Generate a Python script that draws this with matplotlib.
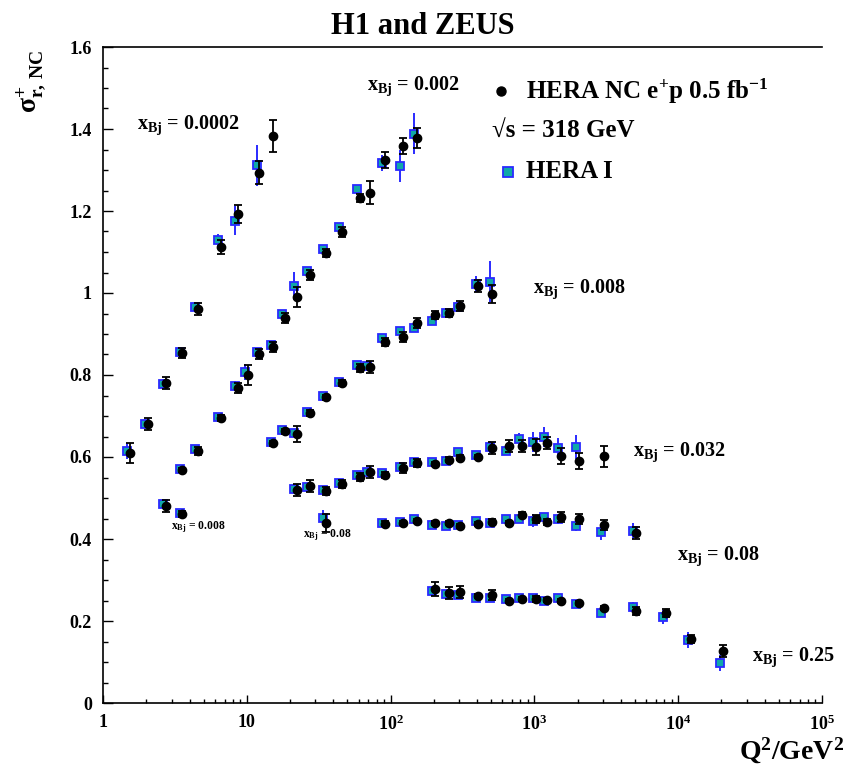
import numpy as np
import matplotlib
matplotlib.use("Agg")
import matplotlib.pyplot as plt
from matplotlib.ticker import FixedLocator, FixedFormatter, NullFormatter

plt.rcParams["font.family"] = ["Liberation Serif", "DejaVu Serif"]
plt.rcParams["font.weight"] = "bold"
plt.rcParams["mathtext.fontset"] = "custom"
plt.rcParams["mathtext.rm"] = "Liberation Serif:bold"
plt.rcParams["mathtext.bf"] = "Liberation Serif:bold"
plt.rcParams["mathtext.it"] = "Liberation Serif:italic:bold"
plt.rcParams["mathtext.default"] = "rm"

# reduced NC e+p cross sections per x_Bj bin: new combination (dots) and HERA I (squares)
q2_0002_new = [1.5, 2, 2.7, 3.5, 4.5, 6.5, 8.5, 12, 15]
sig_0002_new = [0.61, 0.68, 0.78, 0.854, 0.961, 1.112, 1.193, 1.293, 1.383]
err_0002_new = [0.025, 0.015, 0.015, 0.012, 0.015, 0.018, 0.022, 0.028, 0.04]
q2_0002_old = [1.5, 2, 2.7, 3.5, 4.5, 6.5, 8.5, 12]
sig_0002_old = [0.615, 0.68, 0.778, 0.856, 0.966, 1.129, 1.176, 1.312]
err_0002_old = [0.02, 0.01, 0.012, 0.01, 0.012, 0.015, 0.035, 0.05]

q2_002_new = [3.5, 4.5, 6.5, 8.5, 10, 12, 15, 18, 22, 27, 35, 45, 60, 70, 90, 120, 150]
sig_002_new = [0.568, 0.615, 0.695, 0.768, 0.80, 0.851, 0.868, 0.939, 0.99, 1.044,
               1.097, 1.149, 1.232, 1.244, 1.324, 1.358, 1.378]
err_002_new = [0.005, 0.01, 0.008, 0.012, 0.025, 0.012, 0.012, 0.012, 0.025, 0.012,
               0.01, 0.012, 0.01, 0.028, 0.02, 0.02, 0.025]
q2_002_old = [3.5, 4.5, 6.5, 8.5, 10, 12, 15, 18, 22, 27, 35, 45, 60, 90, 120, 150]
sig_002_old = [0.571, 0.62, 0.698, 0.773, 0.807, 0.856, 0.873, 0.949, 1.017, 1.054,
               1.107, 1.161, 1.254, 1.317, 1.31, 1.388]
err_002_old = [0.006, 0.008, 0.008, 0.012, 0.02, 0.01, 0.01, 0.01, 0.035, 0.01,
               0.008, 0.01, 0.01, 0.02, 0.04, 0.05]

q2_008 = [2.7, 3.5, 15, 18, 22, 27, 35, 45, 60, 70, 90, 120, 150, 200, 250, 300,
          400, 500]
sig_008_new = [0.48, 0.461, 0.634, 0.663, 0.656, 0.707, 0.746, 0.78, 0.817, 0.82,
               0.881, 0.893, 0.927, 0.946, 0.951, 0.968, 1.017, 0.998]
err_008_new = [0.014, 0.008, 0.006, 0.006, 0.02, 0.008, 0.006, 0.008, 0.01, 0.015,
               0.01, 0.012, 0.012, 0.01, 0.01, 0.012, 0.015, 0.022]
sig_008_old = [0.485, 0.463, 0.637, 0.666, 0.659, 0.71, 0.749, 0.783, 0.824, 0.822,
               0.89, 0.907, 0.914, 0.932, 0.951, 0.966, 1.022, 1.027]
err_008_old = [0.012, 0.006, 0.005, 0.005, 0.01, 0.006, 0.005, 0.006, 0.008, 0.008,
               0.008, 0.01, 0.01, 0.008, 0.008, 0.01, 0.02, 0.05]

q2_032_new = [22, 27, 35, 45, 60, 70, 90, 120, 150, 200, 250, 300, 400, 500, 650,
              800, 1000, 1200, 1500, 2000, 3000]
sig_032_new = [0.52, 0.529, 0.517, 0.534, 0.551, 0.563, 0.556, 0.573, 0.585, 0.583,
               0.593, 0.598, 0.6, 0.622, 0.627, 0.627, 0.625, 0.634, 0.602, 0.59, 0.602]
err_032_new = [0.015, 0.015, 0.01, 0.01, 0.01, 0.015, 0.008, 0.012, 0.01, 0.006,
               0.006, 0.006, 0.006, 0.015, 0.015, 0.015, 0.02, 0.015, 0.02, 0.02, 0.026]
q2_032_old = [22, 27, 35, 45, 60, 70, 90, 120, 150, 200, 250, 300, 400, 500, 650,
              800, 1000, 1200, 1500, 2000]
sig_032_old = [0.522, 0.527, 0.52, 0.537, 0.556, 0.563, 0.56, 0.576, 0.588, 0.588,
               0.59, 0.612, 0.605, 0.624, 0.615, 0.644, 0.637, 0.649, 0.622, 0.624]
err_032_old = [0.01, 0.01, 0.008, 0.008, 0.008, 0.01, 0.006, 0.008, 0.006, 0.006,
               0.006, 0.006, 0.008, 0.015, 0.01, 0.015, 0.025, 0.025, 0.025, 0.03]

q2_08 = [35, 90, 120, 150, 200, 250, 300, 400, 500, 650, 800, 1000, 1200, 1500,
         2000, 3000, 5000]
sig_08_new = [0.44, 0.437, 0.439, 0.444, 0.439, 0.44, 0.432, 0.436, 0.442, 0.439,
              0.459, 0.449, 0.441, 0.453, 0.449, 0.434, 0.415]
err_08_new = [0.022, 0.006, 0.006, 0.006, 0.005, 0.005, 0.005, 0.005, 0.006, 0.006,
              0.006, 0.01, 0.008, 0.012, 0.012, 0.012, 0.015]
sig_08_old = [0.451, 0.439, 0.442, 0.449, 0.434, 0.432, 0.434, 0.444, 0.439, 0.449,
              0.449, 0.445, 0.454, 0.449, 0.432, 0.417, 0.42]
err_08_old = [0.02, 0.006, 0.006, 0.006, 0.005, 0.005, 0.005, 0.005, 0.008, 0.006,
              0.008, 0.015, 0.01, 0.012, 0.012, 0.02, 0.02]

q2_25 = [200, 250, 300, 400, 500, 650, 800, 1000, 1200, 1500, 2000, 3000, 5000,
         8000, 12000, 20000]
sig_25_new = [0.278, 0.268, 0.27, 0.261, 0.263, 0.249, 0.254, 0.254, 0.251, 0.249,
              0.244, 0.232, 0.224, 0.22, 0.156, 0.127]
err_25_new = [0.018, 0.015, 0.015, 0.005, 0.012, 0.005, 0.005, 0.008, 0.005, 0.005,
              0.005, 0.005, 0.01, 0.01, 0.01, 0.015]
sig_25_old = [0.273, 0.266, 0.263, 0.256, 0.256, 0.254, 0.256, 0.256, 0.249, 0.256,
              0.241, 0.22, 0.234, 0.21, 0.154, 0.097]
err_25_old = [0.012, 0.008, 0.01, 0.005, 0.008, 0.005, 0.005, 0.008, 0.005, 0.005,
              0.008, 0.008, 0.012, 0.018, 0.02, 0.02]

new_sets = [
    (q2_0002_new, sig_0002_new, err_0002_new),
    (q2_002_new, sig_002_new, err_002_new),
    (q2_008, sig_008_new, err_008_new),
    (q2_032_new, sig_032_new, err_032_new),
    (q2_08, sig_08_new, err_08_new),
    (q2_25, sig_25_new, err_25_new),
]
old_sets = [
    (q2_0002_old, sig_0002_old, err_0002_old),
    (q2_002_old, sig_002_old, err_002_old),
    (q2_008, sig_008_old, err_008_old),
    (q2_032_old, sig_032_old, err_032_old),
    (q2_08, sig_08_old, err_08_old),
    (q2_25, sig_25_old, err_25_old),
]

x_ticks = [1, 10, 100, 1e3, 1e4, 1e5]
x_tick_labels = ["1", "10", "$10^{2}$", "$10^{3}$", "$10^{4}$", "$10^{5}$"]
y_ticks = [0, 0.2, 0.4, 0.6, 0.8, 1.0, 1.2, 1.4, 1.6]
y_tick_labels = ["0", "0.2", "0.4", "0.6", "0.8", "1", "1.2", "1.4", "1.6"]

W, H = 846, 765
SQ_FACE = "#10a8a8"
SQ_EDGE = "#2a2aff"


def px(x, y):
    """pixel position (from top-left) -> figure fraction"""
    return x / W, 1 - y / H


fig = plt.figure(figsize=(W / 100, H / 100), dpi=100)
ax = fig.add_axes([103 / W, 1 - 703 / H, 719 / W, 656 / H])

# HERA I squares first, the new points sit on top of them
for q2, s, e in old_sets:
    ax.errorbar(np.array(q2) * 0.975, s, yerr=e, fmt="s", ms=6.2, mfc=SQ_FACE,
                mec=SQ_EDGE, mew=1.3, ecolor=SQ_EDGE, elinewidth=1.4, capsize=0,
                zorder=2)
for q2, s, e in new_sets:
    ax.errorbar(np.array(q2) * 1.02, s, yerr=e, fmt="o", ms=6.0, color="black",
                elinewidth=1.3, capsize=3, capthick=1.3, zorder=3)

ax.set_xscale("log")
ax.set_xlim(1, 1e5)
ax.set_ylim(0, 1.6)
ax.xaxis.set_major_locator(FixedLocator(x_ticks))
ax.xaxis.set_major_formatter(FixedFormatter(x_tick_labels))
ax.xaxis.set_minor_locator(FixedLocator(
    [m * 10.0 ** d for d in range(5) for m in range(2, 10)]))
ax.xaxis.set_minor_formatter(NullFormatter())
ax.yaxis.set_major_locator(FixedLocator(y_ticks))
ax.yaxis.set_major_formatter(FixedFormatter(y_tick_labels))
ax.yaxis.set_minor_locator(FixedLocator(np.arange(0, 1.61, 0.05)))

ax.tick_params(which="both", direction="in", top=False, right=False, width=1.0,
               labelsize=13)
ax.tick_params(axis="y", which="major", length=7, pad=8)
ax.tick_params(axis="y", which="minor", length=3.5)
ax.tick_params(axis="x", which="major", length=5.5, pad=8)
ax.tick_params(axis="x", which="minor", length=3)
for lab in ax.get_xticklabels() + ax.get_yticklabels():
    lab.set_fontweight("bold")
ax.spines["right"].set_visible(False)
for side in ("left", "bottom", "top"):
    ax.spines[side].set_linewidth(1.2)

# bin labels
bin_labels = [
    (137, 125, "0.0002", 14.5),
    (367, 86, "0.002", 14.5),
    (533, 289, "0.008", 14.5),
    (633, 452, "0.032", 14.5),
    (677, 556, "0.08", 14.5),
    (752, 657, "0.25", 14.5),
    (171, 527, "0.008", 8.4),
    (303, 535, "0.08", 8.4),
]
for x, y, val, fs in bin_labels:
    fig.text(*px(x, y), r"x$_{\mathrm{Bj}}$ = " + val, fontsize=fs,
             fontweight="bold", ha="left", va="center")

# legend block
fig.add_artist(plt.Line2D([501 / W], [1 - 91 / H], marker="o", ms=6.5,
                          color="black", ls="none"))
fig.text(*px(526, 91), "HERA NC e$^{+}$p 0.5 fb$^{-1}$", fontsize=18,
         fontweight="bold", ha="left", va="center")
fig.text(*px(492, 130), "\u221as = 318 GeV", fontsize=18, fontweight="bold",
         ha="left", va="center")
fig.add_artist(plt.Line2D([508 / W], [1 - 172 / H], marker="s", ms=7,
                          mfc=SQ_FACE, mec=SQ_EDGE, mew=1.3, ls="none"))
fig.text(*px(526, 172), "HERA I", fontsize=18, fontweight="bold", ha="left",
         va="center")

fig.text(*px(423, 27), "H1 and ZEUS", fontsize=22, fontweight="bold",
         ha="center", va="center")
fig.text(*px(844, 751), "Q$^{2}$/GeV$^{2}$", fontsize=20, fontweight="bold",
         ha="right", va="center")
fig.text(*px(31, 50), r"$\sigma^{+}_{\mathrm{r,\,NC}}$", fontsize=20,
         rotation=90, ha="center", va="top")

fig.savefig("out.png", dpi=100)
